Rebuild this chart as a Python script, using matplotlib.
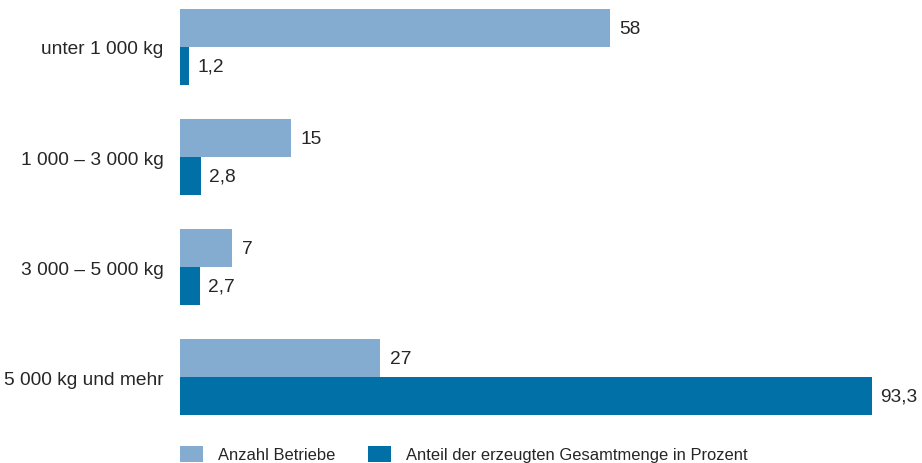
import matplotlib
matplotlib.use("Agg")
import matplotlib.pyplot as plt
import numpy as np

categories = ["unter 1 000 kg", "1 000 – 3 000 kg", "3 000 – 5 000 kg", "5 000 kg und mehr"]
betriebe = [58, 15, 7, 27]
anteil = [1.2, 2.8, 2.7, 93.3]
series_labels = ["Anzahl Betriebe", "Anteil der erzeugten Gesamtmenge in Prozent"]

light = "#84acd0"
dark = "#0070a6"
text_color = "#262626"

plt.rcParams["font.family"] = ["Liberation Sans", "DejaVu Sans"]
plt.rcParams["font.size"] = 13.8

fig = plt.figure(figsize=(9.22, 4.64), dpi=100)
ax = fig.add_axes([180 / 922, 44 / 464, 1 - 180 / 922, 420 / 464])

y = np.arange(len(categories))
h = 0.345

ax.barh(y - h / 2, betriebe, height=h, color=light, label=series_labels[0])
ax.barh(y + h / 2, anteil, height=h, color=dark, label=series_labels[1])

def fmt(v):
    return (f"{v:g}").replace(".", ",")

for yi, v in zip(y, betriebe):
    ax.annotate(fmt(v), (v, yi - h / 2), xytext=(7, 0), textcoords="offset points",
                va="center", ha="left", color=text_color)
for yi, v in zip(y, anteil):
    ax.annotate(fmt(v), (v, yi + h / 2), xytext=(6, 0), textcoords="offset points",
                va="center", ha="left", color=text_color)

ax.set_xlim(0, 100.1)
ax.set_ylim(3.38, -0.436)
ax.set_yticks(y)
ax.set_yticklabels(categories, color=text_color)
ax.tick_params(axis="y", length=0, pad=12)
ax.set_xticks([])
for s in ax.spines.values():
    s.set_visible(False)

leg = fig.legend(loc="upper left", bbox_to_anchor=(180 / 922, 17 / 464), ncol=2,
                 frameon=False, borderpad=0, borderaxespad=0, handlelength=1.4,
                 handleheight=1.1, handletextpad=0.9, columnspacing=2.0,
                 fontsize=11.85)
for t in leg.get_texts():
    t.set_color(text_color)

fig.savefig("out.png", dpi=100)
